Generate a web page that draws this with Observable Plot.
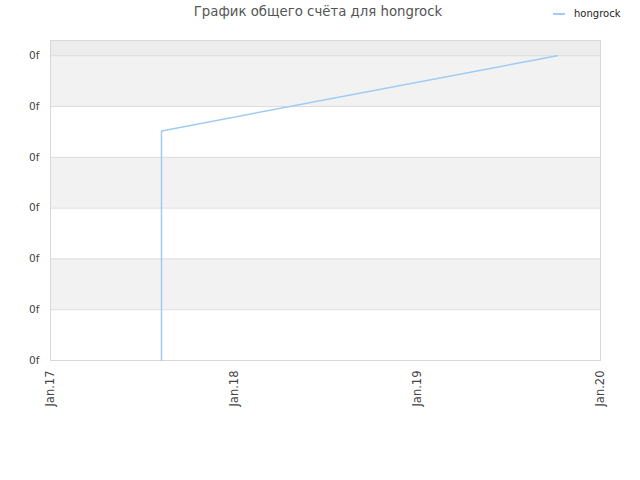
<!DOCTYPE html>
<html><head><meta charset="utf-8">
<script src="https://cdn.jsdelivr.net/npm/d3@7"></script>
<script src="https://cdn.jsdelivr.net/npm/@observablehq/plot@0.6"></script>
<style>
body{margin:0;background:#fff;font-family:"DejaVu Sans",sans-serif;}
#wrap{position:relative;width:640px;height:480px;}
#title{position:absolute;top:4px;left:0;width:636px;text-align:center;font-size:13.3px;color:#555;}
#legend{position:absolute;top:8px;left:553px;font-size:10px;color:#222;display:flex;align-items:center;}
#legend span.sw{display:inline-block;width:12px;height:2px;background:#9fcbf5;margin-right:9px;}
#chart{position:absolute;top:30px;left:0;}
</style></head>
<body><div id="wrap"><div id="title">График общего счёта для hongrock</div>
<div id="legend"><span class="sw"></span>hongrock</div><div id="chart"></div></div>
<script>
const seriesName = "hongrock";
const dates = ["2017-08-10", "2017-08-10", "2019-10-07"];
const scores = [0, 4.52, 6];
const yTicks = [0, 1, 2, 3, 4, 5, 6];
const yTickLabels = ["0f", "0f", "0f", "0f", "0f", "0f", "0f"];
const xTicks = ["2017-01-01", "2018-01-01", "2019-01-01", "2020-01-01"];
const xTickLabels = ["Jan.17", "Jan.18", "Jan.19", "Jan.20"];
const bandLow = [1, 3, 5];
const bandHigh = [2, 4, 6];
const yMax = 6.3;

const data = dates.map((d, i) => ({date: new Date(d), score: scores[i]}));
const bands = bandLow.map((l, i) => ({y1: l, y2: bandHigh[i]}));
const xt = xTicks.map(d => new Date(d));

const plot = Plot.plot({
  width: 640, height: 450,
  marginTop: 10, marginLeft: 50, marginRight: 40, marginBottom: 120,
  style: {fontFamily: "DejaVu Sans, sans-serif", fontSize: "10px", color: "#444", background: "#fff"},
  x: {type: "utc", domain: [xt[0], xt[xt.length - 1]], ticks: xt,
      tickFormat: d => xTickLabels[xt.findIndex(t => +t === +d)], tickRotate: -90, tickSize: 0, tickPadding: 10, label: null},
  y: {domain: [0, yMax], ticks: yTicks, tickFormat: d => yTickLabels[yTicks.indexOf(d)], tickSize: 0, tickPadding: 11, label: null},
  marks: [
    Plot.rectY(bands, {x1: xt[0], x2: xt[xt.length - 1], y1: "y1", y2: "y2", fill: "#f2f2f2"}),
    Plot.rectY([{y1: 6, y2: yMax}], {x1: xt[0], x2: xt[xt.length - 1], y1: "y1", y2: "y2", fill: "#ececec"}),
    Plot.ruleY(yTicks, {stroke: "#dcdcdc", strokeWidth: 1}),
    Plot.frame({stroke: "#d8d8d8"}),
    Plot.axisX({ticks: xt, tickFormat: d => xTickLabels[xt.findIndex(t => +t === +d)], tickRotate: -90, tickSize: 0, tickPadding: 10, fontSize: 11.5, label: null}),
    Plot.axisY({ticks: yTicks, tickFormat: d => yTickLabels[yTicks.indexOf(d)], tickSize: 0, tickPadding: 11, fontSize: 10.5, label: null}),
    Plot.line(data, {x: "date", y: "score", stroke: "#9fcbf5", strokeWidth: 1.5})
  ]
});
document.getElementById("chart").appendChild(plot);
</script></body></html>
